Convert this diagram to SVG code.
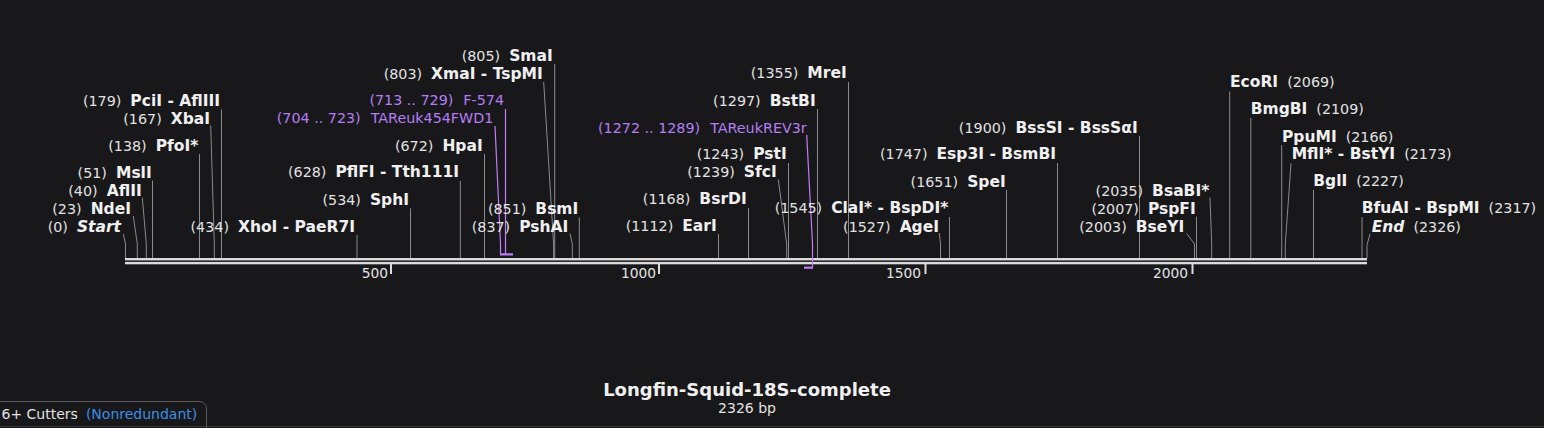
<svg xmlns="http://www.w3.org/2000/svg" width="1544" height="428" viewBox="0 0 1544 428">
<style>
text{font-family:"DejaVu Sans","Liberation Sans",sans-serif;font-size:14.3px;fill:#e2e2e2}
.e{text-anchor:end}
.b{font-weight:bold;font-size:15.5px;fill:#f0f0f0}
.i{font-style:italic}
.p{fill:#b47ef3}
.c line,.c polyline{stroke:#8a8a8a;stroke-width:1;fill:none}
.c .pl{stroke:#c27cf7;stroke-width:1.2}
.tk{font-size:13.8px;text-anchor:end}
</style>
<rect width="1544" height="428" fill="#18181b"/>
<g id="backbone">
<rect x="125" y="258" width="1242" height="2.4" fill="#dcdcdc"/>
<rect x="125" y="261.9" width="1242" height="2.4" fill="#dcdcdc"/>
<rect x="390" y="264" width="2" height="10" fill="#dcdcdc"/>
<rect x="658" y="264" width="2" height="10" fill="#dcdcdc"/>
<rect x="924.5" y="264" width="2" height="10" fill="#dcdcdc"/>
<rect x="1191.5" y="264" width="2" height="10" fill="#dcdcdc"/>
<text class="tk" x="388" y="278">500</text>
<text class="tk" x="656" y="278">1000</text>
<text class="tk" x="921" y="278">1500</text>
<text class="tk" x="1188" y="278">2000</text>
</g>
<g id="connectors" class="c">
<polyline points="123.3,234 125.5,244 125.5,258"/>
<polyline points="133.3,216 137.3,244 137.3,258"/>
<polyline points="142.3,197.5 146.3,244 146.3,258"/>
<line x1="152.5" y1="180.5" x2="152.5" y2="258"/>
<line x1="199.5" y1="154" x2="199.5" y2="258"/>
<polyline points="210.7,125.5 214.3,244 214.3,258"/>
<line x1="221.5" y1="109.5" x2="221.5" y2="258"/>
<line x1="357" y1="235" x2="357" y2="258"/>
<line x1="410.5" y1="208.3" x2="410.5" y2="258"/>
<line x1="460.3" y1="181" x2="460.3" y2="258"/>
<line x1="484.5" y1="154" x2="484.5" y2="258"/>
<polyline class="pl" points="495,126 500.5,244 500.5,254"/>
<line class="pl" x1="505.5" y1="109" x2="505.5" y2="254"/>
<polyline points="543.7,82 553.6,244 553.6,258"/>
<line x1="554.7" y1="64" x2="554.7" y2="258"/>
<polyline points="570,233.5 572.3,244 572.3,258"/>
<line x1="579.3" y1="217.5" x2="579.3" y2="258"/>
<line x1="718.5" y1="234" x2="718.5" y2="258"/>
<line x1="748.5" y1="208" x2="748.5" y2="258"/>
<polyline points="778.3,179.5 786.7,244 786.7,258"/>
<line x1="788.5" y1="163" x2="788.5" y2="258"/>
<polyline class="pl" points="806.7,135 812.5,244 812.5,268"/>
<line x1="817.5" y1="109" x2="817.5" y2="258"/>
<line x1="848.5" y1="82" x2="848.5" y2="258"/>
<polyline points="939.3,233 940.5,244 940.5,258"/>
<line x1="949.5" y1="217" x2="949.5" y2="258"/>
<line x1="1006.5" y1="190" x2="1006.5" y2="258"/>
<line x1="1057.5" y1="163" x2="1057.5" y2="258"/>
<line x1="1139.5" y1="136" x2="1139.5" y2="258"/>
<polyline points="1186.7,233.5 1194.5,244 1194.5,258"/>
<line x1="1196.5" y1="216.7" x2="1196.5" y2="258"/>
<polyline points="1210,197.5 1211.7,244 1211.7,258"/>
<line x1="1229.7" y1="91.5" x2="1229.7" y2="258"/>
<line x1="1250.8" y1="118" x2="1250.8" y2="258"/>
<line x1="1281.7" y1="145" x2="1281.7" y2="258"/>
<polyline points="1291,163.3 1285.3,244 1285.3,258"/>
<line x1="1313.5" y1="190" x2="1313.5" y2="258"/>
<line x1="1362" y1="217" x2="1362" y2="258"/>
<polyline points="1370,234 1367,245 1367,258"/>
<rect x="500" y="253.3" width="13" height="2.2" fill="#c27cf7"/>
<rect x="804" y="266.6" width="9" height="2.2" fill="#c27cf7"/>
</g>
<g id="n-start"><text class="e" x="121" y="232">(0)<tspan class="b i" dx="9">Start</tspan></text></g>
<g id="n-ndei"><text class="e" x="131" y="214">(23)<tspan class="b" dx="9">NdeI</tspan></text></g>
<g id="n-aflii"><text class="e" x="141.7" y="196">(40)<tspan class="b" dx="9">AflII</tspan></text></g>
<g id="n-msli"><text class="e" x="151.7" y="178.3">(51)<tspan class="b" dx="9">MslI</tspan></text></g>
<g id="n-pfoi"><text class="e" x="198.3" y="151">(138)<tspan class="b" dx="9">PfoI*</tspan></text></g>
<g id="n-xbai"><text class="e" x="210" y="123.5">(167)<tspan class="b" dx="9">XbaI</tspan></text></g>
<g id="n-pcii"><text class="e" x="220" y="106">(179)<tspan class="b" dx="9">PciI - AflIII</tspan></text></g>
<g id="n-xhoi"><text class="e" x="355" y="232">(434)<tspan class="b" dx="9">XhoI - PaeR7I</tspan></text></g>
<g id="n-sphi"><text class="e" x="409" y="205">(534)<tspan class="b" dx="9">SphI</tspan></text></g>
<g id="n-pflfi"><text class="e" x="459" y="177.3">(628)<tspan class="b" dx="9">PflFI - Tth111I</tspan></text></g>
<g id="n-hpai"><text class="e" x="482.7" y="150.7">(672)<tspan class="b" dx="9">HpaI</tspan></text></g>
<g id="n-tareuk454"><text class="e p" x="493.3" y="123.3">(704 .. 723)<tspan dx="10">TAReuk454FWD1</tspan></text></g>
<g id="n-f574"><text class="e p" x="504" y="105">(713 .. 729)<tspan dx="10">F-574</tspan></text></g>
<g id="n-xmai"><text class="e" x="542.7" y="79">(803)<tspan class="b" dx="9">XmaI - TspMI</tspan></text></g>
<g id="n-smai"><text class="e" x="552.7" y="60.7">(805)<tspan class="b" dx="9">SmaI</tspan></text></g>
<g id="n-pshai"><text class="e" x="568.3" y="231.7">(837)<tspan class="b" dx="9">PshAI</tspan></text></g>
<g id="n-bsmi"><text class="e" x="578.3" y="214">(851)<tspan class="b" dx="9">BsmI</tspan></text></g>
<g id="n-eari"><text class="e" x="716.7" y="231">(1112)<tspan class="b" dx="9">EarI</tspan></text></g>
<g id="n-bsrdi"><text class="e" x="746.7" y="204.3">(1168)<tspan class="b" dx="9">BsrDI</tspan></text></g>
<g id="n-sfci"><text class="e" x="776.7" y="177.3">(1239)<tspan class="b" dx="9">SfcI</tspan></text></g>
<g id="n-psti"><text class="e" x="786.7" y="159.3">(1243)<tspan class="b" dx="9">PstI</tspan></text></g>
<g id="n-tareukrev"><text class="e p" x="806.7" y="132.7">(1272 .. 1289)<tspan dx="10">TAReukREV3r</tspan></text></g>
<g id="n-bstbi"><text class="e" x="815.7" y="105.7">(1297)<tspan class="b" dx="9">BstBI</tspan></text></g>
<g id="n-mrei"><text class="e" x="846.7" y="78.3">(1355)<tspan class="b" dx="9">MreI</tspan></text></g>
<g id="n-agei"><text class="e" x="939" y="231.7">(1527)<tspan class="b" dx="9">AgeI</tspan></text></g>
<g id="n-clai"><text class="e" x="948.3" y="213.3">(1545)<tspan class="b" dx="9">ClaI* - BspDI*</tspan></text></g>
<g id="n-spei"><text class="e" x="1005.7" y="186.7">(1651)<tspan class="b" dx="9">SpeI</tspan></text></g>
<g id="n-esp3i"><text class="e" x="1056" y="159.3">(1747)<tspan class="b" dx="9">Esp3I - BsmBI</tspan></text></g>
<g id="n-bsssi"><text class="e" x="1137.7" y="132.7">(1900)<tspan class="b" dx="9">BssSI - BssSαI</tspan></text></g>
<g id="n-bseyi"><text class="e" x="1184.3" y="231.7">(2003)<tspan class="b" dx="9">BseYI</tspan></text></g>
<g id="n-pspfi"><text class="e" x="1195.7" y="214">(2007)<tspan class="b" dx="9">PspFI</tspan></text></g>
<g id="n-bsabi"><text class="e" x="1209.3" y="196">(2035)<tspan class="b" dx="9">BsaBI*</tspan></text></g>
<g id="n-ecori"><text x="1230" y="87.3"><tspan class="b">EcoRI</tspan><tspan dx="9">(2069)</tspan></text></g>
<g id="n-bmgbi"><text x="1250.7" y="114.3"><tspan class="b">BmgBI</tspan><tspan dx="9">(2109)</tspan></text></g>
<g id="n-ppumi"><text x="1282" y="141.7"><tspan class="b">PpuMI</tspan><tspan dx="9">(2166)</tspan></text></g>
<g id="n-mfli"><text x="1291.7" y="159.3"><tspan class="b">MflI* - BstYI</tspan><tspan dx="9">(2173)</tspan></text></g>
<g id="n-bgli"><text x="1313.3" y="186"><tspan class="b">BglI</tspan><tspan dx="9">(2227)</tspan></text></g>
<g id="n-bfuai"><text x="1361.7" y="213.3"><tspan class="b">BfuAI - BspMI</tspan><tspan dx="9">(2317)</tspan></text></g>
<g id="n-end"><text x="1371.7" y="231.7"><tspan class="b i">End</tspan><tspan dx="9">(2326)</tspan></text></g>
<g id="title">
<text x="747" y="396" text-anchor="middle" style="font-weight:bold;font-size:18px;fill:#f0f0f0">Longfin-Squid-18S-complete</text>
<text x="747" y="413.3" text-anchor="middle" style="font-size:14px">2326 bp</text>
</g>
<g id="tab">
<line x1="0" y1="426.5" x2="1544" y2="426.5" stroke="#3a3a3e" stroke-width="1"/>
<path d="M-2,401.5 H199.5 a7,7 0 0 1 7,7 V428" fill="none" stroke="#5a5a5e" stroke-width="1"/>
<text x="1.5" y="419.3" style="font-size:14px">6+ Cutters<tspan dx="8" style="fill:#3d8fe0">(Nonredundant)</tspan></text>
</g>
</svg>
